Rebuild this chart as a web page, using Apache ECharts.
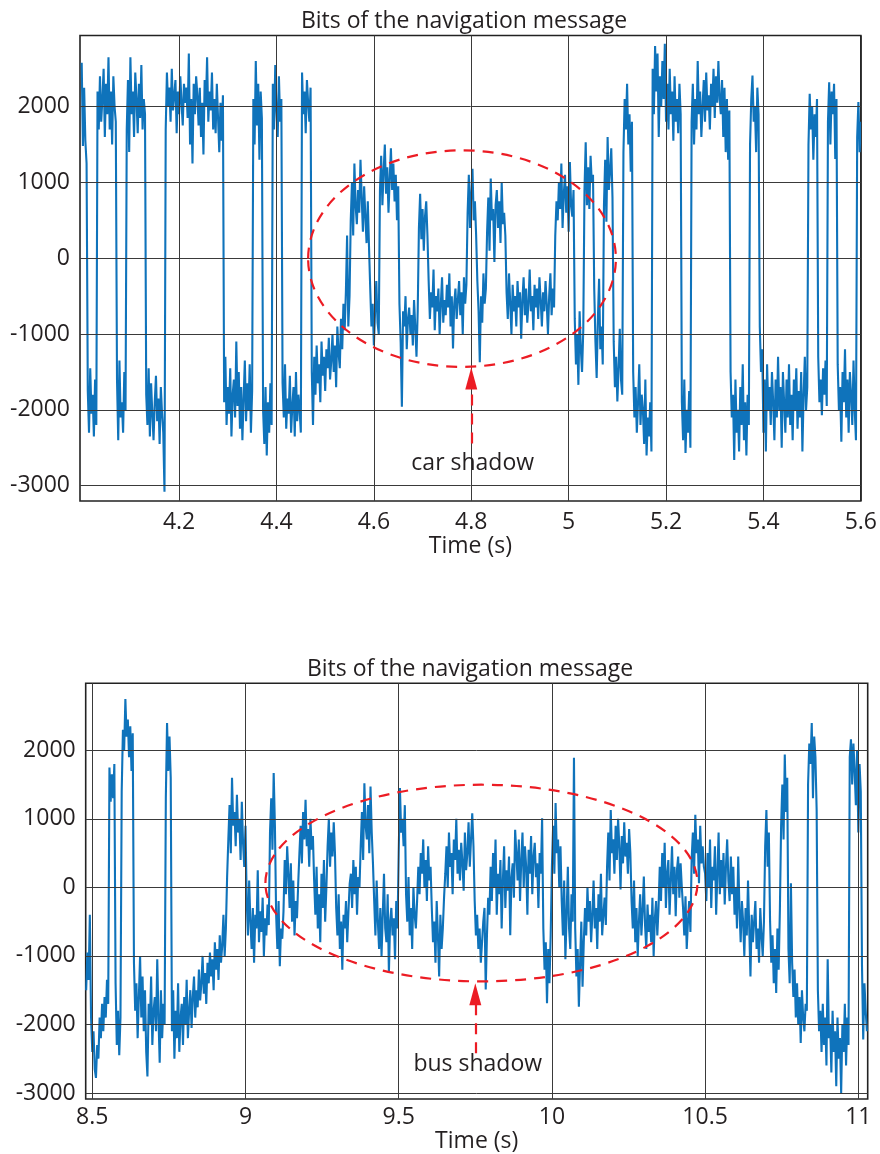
<!DOCTYPE html>
<html>
<head>
<meta charset="utf-8">
<script src="https://cdn.jsdelivr.net/npm/echarts@6/dist/echarts.min.js"></script>
<style>
html,body{margin:0;padding:0;background:#fff;}
#main{width:880px;height:1154px;}
</style>
</head>
<body>
<div id="main"></div>
<script>
// ---------- Data ----------
const chartTitle = 'Bits of the navigation message';
const xName = 'Time (s)';

// Panel 1 (car shadow): samples every 2.5 ms starting at 4.0 s
const t1Start = 4.0, t1Step = 0.0025;
const v1 = [
  2580, 1480, 2250, 1550, 1250,
  -1750, -2300, -1450, -2050, -1800, -2350, -1600, -2200,
  2200, 1700, 2400, 1800, 2100, 2500, 1600, 2300,
  1900, 2650, 1700, 2200, 1500, 2400, 2000, 1800,
  -1600, -2400, -1350, -2100, -1900, -2300, -1500, -2000,
  1700, 2350, 1400, 2650, 1900, 2200, 1600, 2450,
  2100, 1650, 2300, 1850, 2550, 1700, 2100, 1900,
  -1800, -2200, -1450, -2350, -1650, -2050, -2400, -1900,
  -1550, -2150, -1850, -2450, -1700, -2050, -2300, -3080,
  1700, 2450, 2000, 2250, 1800, 2500, 1950, 2150,
  2350, 1650, 2200, 1900, 2400, 2050, 1750, 2300,
  2050, 2250, 1850, 2700, 1500, 2100, 1250, 2300,
  1900, 2400, 2150, 1750, 2250, 1600, 2050, 1370,
  2350, 2000, 2650, 1800, 2200, 1950, 2450, 1700,
  2100, 1650, 2300, 1850, 1400, 2050, 1550, 2150,
  -1900, -1300, -2200, -1700, -2050, -1450, -2350, -1800,
  -1600, -2100, -1100, -1950, -1500, -2250, -1700, -2400,
  -1850, -1350, -2150, -1650, -2000, -1400, -2300, -1750,
  2100, 1500, 2600, 1750, 2300, 1300, 2200, 1850,
  -2000, -2450, -1700, -2600, -1900, -2300, -1650, -2200,
  2300, 1700, 2550, 1950, 1600, 2400, 1800, 2100,
  -1650, -2100, -1400, -2250, -1850, -2050, -1550, -2300,
  -1950, -1700, -2350, -1500, -2150, -1800, -2000, -2300,
  2450, 1900, 2200, 1650, 2350, 2050, 1800, 2250,
  -1500, -2200, -1300, -1800, -1150, -1650, -1400, -1900,
  -1100, -1550, -1300, -1750, -1200, -1450, -1050, -1600,
  -1350, -1000, -1500, -1150, -1700, -900, -1250, -1450,
  -800, -1200, -600, -950, -450, 300, -900, -500,
  500, 1000, 300, 1250, 700, 450, 900, 600,
  1300, 800, 350, 950, 550, 200, 750, 150,
  -400, -900, -600, -1150, -700, -300, -850, -1000,
  900, 1350, 700, 1150, 1500, 850, 1200, 600,
  1050, 1450, 900, 1250, 750, 1100, 500, 950,
  -600, -1100, -1960, -700, -900, -500, -1200, -800,
  -650, -1000, -750, -1150, -550, -900, -1300, -700,
  400, 850, 250, 650, 100, 550, 750, 300,
  -300, -800, -450, -650, -150, -950, -500, -700,
  -400, -1000, -600, -250, -850, -550, -750, -350,
  -650, -200, -900, -500, -1190, -600, -400, -800,
  -550, -300, -750, -450, -1000, -250, -600, -350,
  600, 1100, 400, 850, 1180, 500, 750, 300,
  -300, -700, -1370, -500, -850, -200, -600, -400,
  350, 800, 100, 1050, 500, 650, -50, 700,
  900, 400, 750, 200, 1000, 450, 600, 300,
  -450, -800, -200, -600, -1000, -350, -700, -500,
  -900, -300, -650, -450, -1060, -550, -250, -750,
  -400, -850, -600, -150, -700, -500, -950, -350,
  -650, -400, -800, -250, -550, -900, -450, -700,
  -300, -600, -1000, -500, -200, -750, -400, -650,
  300, 750, 500, 1000, 650, 1250, 400, 850,
  1100, 600, 950, 350, 1270, 700, 550, 900,
  -800, -1400, -1000, -1670, -700, -1200, -1500, -950,
  900, 1530, 700, 1200, 650, 1350, 1000, 1100,
  -400, -1100, -1580, -800, -270, -1200, -900, -1400,
  700, 1300, 480, 1600, 900, 1150, 1450, 800,
  -1100, -1700, -1300, -1890, -1450, -930, -1600, -1800,
  1400, 2100, 1700, 2300, 1500, 1900, 1140, 1800,
  -1500, -2100, -1700, -2300, -1900, -1400, -2200, -1800,
  -2000, -2450, -1600, -2600, -2100, -2350, -1900, -2550,
  2500, 1900, 2800, 2200, 2700, 1600, 2400, 2000,
  2600, 2100, 2830, 1800, 2300, 1700, 2500, 1900,
  2200, 1550, 2400, 1800, 2100, 1650, 2300, 1900,
  -1900, -2400, -1600, -2570, -2000, -2300, -1750, -2500,
  1800, 2300, 1500, 2100, 1700, 2600, 1900, 2200,
  1600, 2000, 2350, 1800, 2450, 1950, 2150, 1700,
  2300, 2000, 2500, 1850, 2400, 2050, 2600, 2100,
  1900, 2350, 1600, 2250, 1400, 2100, 1300, 1950,
  -1500, -2100, -1800, -2660, -1600, -2300, -2000, -2550,
  -1700, -2200, -1400, -2400, -1900, -2600, -1800, -2200,
  1500, 2100, 2410, 1800, 2000, 1400, 2250, 1900,
  -900, -1500, -1200, -2300, -1600, -2550, -1400, -2000,
  -1700, -2200, -1500, -1900, -2400, -1600, -2100, -1300,
  -2000, -1700, -2500, -1500, -1900, -2300, -1600, -2100,
  -1400, -2200, -1800, -2400, -1600, -2000, -1450, -2250,
  -1750, -2100, -1500, -2550, -1800, -1300, -2000, -1700,
  1500, 2170, 1700, 2000, 1300, 1900, 1600, 2100,
  -1300, -1900, -1600, -2070, -1450, -1800, -1350, -1950,
  1800, 2320, 1500, 2200, 1900, 2300, 1310, 2100,
  -1400, -2000, -1700, -2420, -1500, -1900, -1200, -2100,
  -1600, -2300, -1500, -1800, -2200, -1350, -2000, -2400,
  1600, 2060, 1400, 1800
];

// Panel 2 (bus shadow): samples every 4 ms starting at 8.48 s
const t2Start = 8.48, t2Step = 0.004;
const v2 = [
  -1500, -950, -1350, -400,
  -1900, -2400, -2100, -2650, -2780, -2300, -2500, -1900, -2200, -1700, -2100, -1600, -1900, -1350, -1700,
  1750, 1250, 1650, 1300, 1800,
  -1400, -2300, -1800, -2450, -1900,
  1400, 2300, 2000, 2750, 2200, 2450, 1900, 2350, 1700, 2250,
  -1100, -1800, -1400, -2200, -1600, -1000, -1900, -1300, -2100, -1500,
  -2400, -2760, -1700, -2000, -1300, -2300, -1800, -1600, -2100, -1050,
  -1900, -2560, -1500, -2200, -1700, -2000,
  1300, 2400, 1700, 2200, 1600,
  -2100, -1500, -2500, -1800, -2200, -1400, -2400, -1900,
  -1700, -2300, -1600, -2000, -1350, -2200, -1800, -1500,
  -2050, -1600, -1300, -1900, -1500, -1750, -1200, -1650,
  -1400, -1000, -1550, -1250, -1700, -1100, -1400, -950,
  -1300, -1050, -1500, -800, -1200, -900, -1350, -700,
  -1100, -850, -400, -1000, -600, 150,
  700, 1200, 500, 1600, 900, 1100, 600, 1350, 800, 1000, 400, 1250, 650, 300, 900,
  -200, -700, 100, -500, -900, -300, -1100, -400, -600, 250, -800, -350, -650, -150, -1000, -450, -700, -250, -550,
  800, 1300, 550, 1670, 900,
  -400, -900, -200, -1150, -600, -750, -350,
  400, -100, 600, 200, -300, 350, -500, 100, -700, -200, -450, 50,
  500, 900, 350, 1100, 700, 1280, 600, 850, 300, 1000, 550, 750,
  100, -400, 300, -600, -100, -800, 200, -300, 400, -500, 0,
  600, 1000, 300, 800, 450, 950, 500,
  -300, -700, -100, -900, -500, -1200, -400, -600, -200, -800, -350, 50,
  200, -300, 400, -100, 300, -400, 150, 0,
  600, 1100, 400, 1520, 900, 700, 1200, 500, 1470, 800, 350,
  -200, -700, 100, -500, -900, -300, -1000, -400, 200, -600,
  -800, -100, -1250, -500, -300, -700, -450, -1050, -200, -600,
  500, 1450, 800, 1000, 600, 1200,
  -100, -500, 150, -700, -300, -900, 0, -400, -600, -200,
  300, -100, 500, 200, 700, 0, 400, -200, 600, 100, 300,
  -300, -800, -500, -1100, -200, -700, -1300, -400, -900, -600, -150,
  200, 600, 0, 800, 300, 500, -100, 700, 400, 1000,
  200, 550, 100, 650, 350, -50, 800, 250, 500, 950, 300, 700, 1080, 600,
  -200, -700, -400, -900, -600, -1100, -800, -500, -300, -1490, -700, -150, -400,
  300, -200, 500, 0, 700, -400, 200, -100, 400, -600,
  100, 600, -300, 250, -50, 450, -700, 150, 350, -150, 840,
  500, 100, 700, -200, 400, 800, 0, 600, 300, -400,
  550, 200, 750, -100, 450, 650, 150, 350, -300, 500, 200, 1010,
  -600, -1200, -800, -1690, -900, -1400, -700,
  300, 900, 200, 1230, 500, 700, 0, 600,
  -200, -700, 100, -1050, -400, 300, -600, -900, -100, -500, 1890,
  -600, -1300, -900, -1740, -1100, -500, -1450, -800,
  -300, -700, 0, -500, -200, -800, -400, 100, -600, -300,
  -900, -100, -500, 200, -700, -400, -150, -550,
  300, 800, 100, 1130, 500, 700, 200, 900, 400, 1000,
  600, -30, 750, 350, 950, 450, 650, 200, 850, 500,
  -200, -600, 100, -800, -300, -1000, -500, -100, -700, -350,
  160, -550, -900, -250, -650, -400, -800, -150, -1000, -450, -200, -700, -300,
  300, -200, 500, 0, 650, -300, 200, 400, -400, 100,
  600, -100, 300, -420, 250, 450, -150, 350, 0,
  -300, -700, -130, -900, -500, -200, -650,
  400, 800, 200, 1060, 500, 700, 60, 900, 350, 600, 300,
  200, -200, 500, 0, 700, -300, 300, 100, 600, -400,
  200, 800, -100, 400, 0, 500, -250, 300, 700, 100, -200, 450,
  -100, 300, -400, 0, -600, 450, -300, -800, -200, -500,
  -1000, -300, -700, 100, -600, -1300, -400, -800, -500, -200,
  -900, -600, -1100, -300, -700, -1000, -500,
  600, 1130, 300, 800,
  -500, -1100, -700, -1400, -900, -1540, -600, -1200, -330,
  900, 1500, 700, 1940, 1100, 1600,
  -900, -1400, 60, -1100, -1600, -1200, -1900, -1400, -2000, -1600,
  -2270, -1500, -1900, -2100, -1700, -1800,
  1500, 2100, 1800, 2400, 1300, 2200, 1900, 1130,
  -1500, -2100, -1800, -2400, -1700, -2300, -1900, -2600, -1050, -2200,
  -2000, -2700, -1800, -2400, -2100, -2900, -1900, -2500, -2200, -3000,
  -2000, -2400, -1700, -2600, -1900, -2300,
  1900, 2160, 1500, 2100, 1700, 1200, 2000, 800, 1800, 1400,
  -1150, -2220, -1400, -1800, -2100
];

// Tick labels
const x1Ticks = [4.2, 4.4, 4.6, 4.8, 5, 5.2, 5.4, 5.6];
const x2Ticks = [8.5, 9, 9.5, 10, 10.5, 11];
const yTicks = [-3000, -2000, -1000, 0, 1000, 2000];

// Annotations: ellipse [centerT, centerV, radiusT, radiusV], arrow [t, fromV, toV], label [t, v, text]
const ellipse1 = [4.781, -5, 0.316, 1428];
const ellipse2 = [9.77, 63, 0.705, 1435];
const arrow1 = [4.8, -2444, -1585];
const arrow2 = [9.75, -2420, -1560];
const label1 = [4.803, -2708, 'car shadow'];
const label2 = [9.758, -2580, 'bus shadow'];

// ---------- Chart ----------
const FONT = 'Open Sans';
const FS = 23;
const TXT = '#231f20';
const BLUE = '#0f73bb';
const RED = '#ec1c24';
const GRIDC = '#3a3a3a';

const d1 = v1.map((v, i) => [+(t1Start + i * t1Step).toFixed(4), v]);
const d2 = v2.map((v, i) => [+(t2Start + i * t2Step).toFixed(4), v]);

function gridLines(xt) {
  return {
    silent: true, symbol: 'none', label: {show: false},
    lineStyle: {color: GRIDC, width: 1, type: 'solid'},
    emphasis: {disabled: true},
    data: yTicks.map(v => ({yAxis: v})).concat(xt.map(v => ({xAxis: v})))
  };
}
function ellipseSeries(idx, e) {
  return {
    type: 'custom', xAxisIndex: idx, yAxisIndex: idx, z: 5, silent: true,
    data: [e],
    renderItem: function (params, api) {
      const c = api.coord([api.value(0), api.value(1)]);
      const s = api.size([api.value(2), api.value(3)]);
      return {
        type: 'ellipse',
        shape: {cx: c[0], cy: c[1], rx: s[0], ry: s[1]},
        style: {fill: 'none', stroke: RED, lineWidth: 2.2, lineDash: [11, 8]}
      };
    }
  };
}
function arrowSeries(idx, a, lab) {
  return {
    type: 'scatter', xAxisIndex: idx, yAxisIndex: idx, z: 6, silent: true,
    symbolSize: 0,
    itemStyle: {opacity: 1},
    data: [[lab[0], lab[1]]],
    label: {show: true, position: 'inside', formatter: lab[2], fontFamily: FONT, fontSize: FS, color: TXT, opacity: 1},
    markLine: {
      silent: true, symbol: ['none', 'triangle'], symbolSize: [12, 22], label: {show: false},
      lineStyle: {color: RED, width: 2.2, type: [11, 8]},
      itemStyle: {color: RED},
      data: [[{coord: [a[0], a[1]]}, {coord: [a[0], a[2]]}]]
    }
  };
}
const yLabel = {fontFamily: FONT, fontSize: FS, color: TXT, margin: 10, customValues: yTicks, formatter: v => String(v)};
function xLabel(ticks, margin) {
  return {fontFamily: FONT, fontSize: FS, color: TXT, margin: margin, customValues: ticks, formatter: v => String(v)};
}

const option = {
  animation: false,
  backgroundColor: '#fff',
  title: [
    {text: chartTitle, left: 459, top: 5, textAlign: 'center', textStyle: {fontFamily: FONT, fontSize: FS, fontWeight: 'normal', color: TXT}},
    {text: chartTitle, left: 465, top: 653, textAlign: 'center', textStyle: {fontFamily: FONT, fontSize: FS, fontWeight: 'normal', color: TXT}}
  ],
  grid: [
    {left: 80, top: 35.5, width: 783, height: 465.5, show: true, borderColor: '#222', borderWidth: 1.6, backgroundColor: 'transparent'},
    {left: 85.7, top: 683.3, width: 782, height: 415.7, show: true, borderColor: '#222', borderWidth: 1.6, backgroundColor: 'transparent'}
  ],
  xAxis: [
    {type: 'value', gridIndex: 0, min: 3.9965, max: 5.6, axisLine: {show: false}, axisTick: {show: false, customValues: x1Ticks},
     splitLine: {show: false}, axisLabel: xLabel(x1Ticks, 10),
     name: xName, nameLocation: 'middle', nameGap: 34, nameTextStyle: {fontFamily: FONT, fontSize: FS, color: TXT}},
    {type: 'value', gridIndex: 1, min: 8.4785, max: 11.0306, axisLine: {show: false}, axisTick: {show: false, customValues: x2Ticks},
     splitLine: {show: false}, axisLabel: xLabel(x2Ticks, 7),
     name: xName, nameLocation: 'middle', nameGap: 29, nameTextStyle: {fontFamily: FONT, fontSize: FS, color: TXT}}
  ],
  yAxis: [
    {type: 'value', gridIndex: 0, min: -3202, max: 2938, axisLine: {show: false}, axisTick: {show: false, customValues: yTicks},
     splitLine: {show: false}, axisLabel: yLabel},
    {type: 'value', gridIndex: 1, min: -3088, max: 2978, axisLine: {show: false}, axisTick: {show: false, customValues: yTicks},
     splitLine: {show: false}, axisLabel: yLabel}
  ],
  series: [
    {type: 'line', xAxisIndex: 0, yAxisIndex: 0, z: 1, silent: true, data: [[4.5, 0]], showSymbol: false,
     lineStyle: {opacity: 0}, markLine: gridLines(x1Ticks)},
    {type: 'line', xAxisIndex: 1, yAxisIndex: 1, z: 1, silent: true, data: [[9.5, 0]], showSymbol: false,
     lineStyle: {opacity: 0}, markLine: gridLines(x2Ticks)},
    {type: 'line', name: 'signal1', xAxisIndex: 0, yAxisIndex: 0, z: 3, data: d1, showSymbol: false, symbol: 'none',
     lineStyle: {color: BLUE, width: 2.1}, silent: true},
    {type: 'line', name: 'signal2', xAxisIndex: 1, yAxisIndex: 1, z: 3, data: d2, showSymbol: false, symbol: 'none',
     lineStyle: {color: BLUE, width: 2.1}, silent: true},
    ellipseSeries(0, ellipse1),
    ellipseSeries(1, ellipse2),
    arrowSeries(0, arrow1, label1),
    arrowSeries(1, arrow2, label2)
  ]
};
const chart = echarts.init(document.getElementById('main'), null, {renderer: 'canvas'});
chart.setOption(option);
</script>
</body>
</html>
